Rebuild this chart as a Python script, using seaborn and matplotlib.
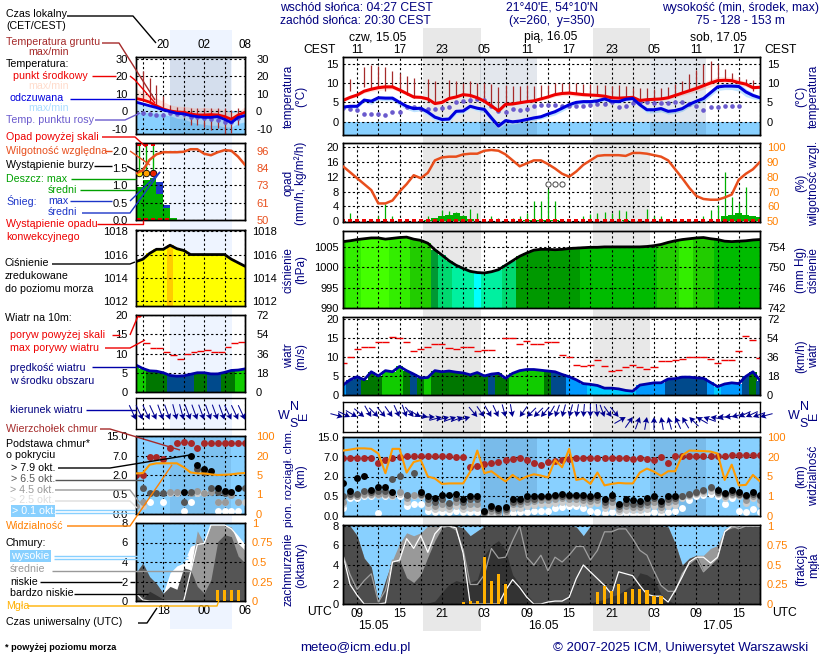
import matplotlib
matplotlib.use("Agg")
import matplotlib.pyplot as plt
import numpy as np
import seaborn as sns
from matplotlib.patches import Rectangle

n = np.nan

# long panel, hourly from 07 UTC on 15.05 (x = hours since 00 UTC 15.05)
hours = np.arange(7, 67)
temp_mid = [5.5,6.3,6.9,7.9,8.4,8.8,9.0,9.0,8.2,7.3,
            6.4,6.3,5.9,4.7,5.0,6.0,6.4,7.0,6.8,6.2,
            5.3,4.1,2.8,4.5,4.6,4.9,5.2,5.4,5.9,6.4,
            7.0,7.3,7.4,7.2,7.0,6.9,6.8,6.6,6.2,6.1,
            6.2,6.3,5.5,5.7,5.8,5.9,6.2,6.8,7.4,8.0,
            8.6,9.3,10.0,10.6,10.7,10.6,10.1,9.7,8.8,8.9]
temp_band = [.2,.3,.4,.5,.6,.7,.7,.6,.5,.4,
             .4,.4,.4,.4,.5,.5,.4,.3,.4,.4,
             .4,.4,.5,.4,.3,.3,.3,.4,.4,.5,
             .5,.6,.6,.6,.5,.4,.4,.4,.3,.3,
             .3,.3,.3,.3,.3,.3,.4,.5,.6,.7,
             .8,.9,1.0,1.0,.9,.9,.8,.7,.5,.3]
feels = [3.8,4.0,4.0,5.6,5.3,6.2,6.1,6.1,5.0,4.0,
         3.4,3.5,2.5,1.2,0.6,0.7,2.7,2.8,4.0,3.5,
         3.2,1.0,-1.1,0.3,0.0,0.2,0.6,1.0,1.3,2.0,
         2.6,3.5,4.4,5.0,5.2,5.2,5.4,5.9,5.3,5.2,
         5.8,6.0,4.4,3.1,3.1,3.4,2.7,2.9,3.4,4.5,
         5.3,6.0,7.5,9.0,9.2,9.2,9.1,7.7,6.8,6.2]
feels_band = [.3,.4,.5,.5,.8,.6,.7,.7,.8,.8,
              .8,.7,.8,.9,.9,.9,.7,.6,.6,.7,
              .8,.9,.7,.8,.6,.5,.5,.6,.6,.7,
              .8,.8,.7,.6,.6,.6,.6,.5,.5,.5,
              .4,.4,.7,.8,.8,.8,.7,.7,.7,.7,
              .7,.8,.9,.9,.9,.9,1.2,1.2,.9,.6]
dew = [3.5,3.4,3.0,2.0,2.0,2.0,1.8,2.4,2.6,3.7,
       3.8,3.3,3.2,3.3,3.5,3.7,5.0,5.4,5.6,5.8,
       5.5,4.2,2.7,2.6,3.2,3.0,3.4,4.1,4.3,4.4,
       4.4,4.1,4.2,4.0,4.1,4.4,4.5,4.7,5.0,3.9,
       4.0,4.8,5.0,5.0,4.8,4.8,4.9,5.0,5.0,4.7,
       4.0,3.1,3.9,3.9,4.0,4.2,4.2,n,n,n]
ground_max = [n,11,n,14,14.7,14.4,14,13,12.5,11.8,
              11.3,n,11,10.5,n,10.7,10.6,10.1,10.4,10.1,
              9.9,9.7,9,9.4,9.2,9.3,9.4,9.3,9.4,9.6,
              10,10,10,9.9,9.8,9.7,9.6,9.4,9.3,9.4,
              9.2,8.7,8.7,8.6,8.4,8.7,9,9.8,10.5,12.2,
              13.4,15,15.6,15,13.6,12.6,11.6,11,10.7,n]
ground_min = [n,8,n,9,8.4,9,8,9,8.2,7,
              6.2,n,5,4.5,n,6.2,6.5,7,6.3,5.5,
              5,4,2.8,4.5,4.6,4.9,5.2,5.4,5.9,6.4,
              7,7.3,7.4,7.2,7,6.9,6.8,6.6,6.2,6.1,
              6.2,6.3,5.5,5.7,5.8,5.9,6.2,6.8,7.4,8,
              8.6,9.3,10,10.6,10.7,10.6,10.1,9.7,8,n]

rain_mean = [0,0,0,0,0,0,0,0,0,0,
             0,0,.4,.8,1.4,1.8,2.1,1.5,.6,0,
             0,.1,.2,.2,.1,.2,.3,.3,.4,.4,
             .4,.2,.1,.1,.1,.1,.1,.2,.2,.2,
             .3,.1,.1,.1,0,0,0,0,0,0,
             0,0,0,0,1.3,1.7,2.1,1.7,1.3,1.1]
rain_max = [0,2.2,1.0,0,0,1.4,4.7,1.5,0,0,
            0,0,1.3,0,2.9,2.7,2.5,1.8,3.3,2.2,
            .5,1.4,.9,.4,1.0,1.4,2.2,5.4,5.4,8.7,
            5.4,.5,.5,.7,1.4,2.0,2.2,2.5,2.2,2.9,
            2.7,.3,.3,3.4,1.4,1.4,0,0,0,0,
            0,1.4,2.9,4.5,13.2,6.5,4.9,9.2,0,0]
humidity = [87,83,79,75,71,62,62,64,70,75,
            81,79,82.6,91,93,93.5,93.5,95,95.5,95.5,
            97.5,98,97.5,95,91,87,89,91,91,88.5,
            85.5,82,80,83.5,88,91,94,94.5,94.5,94.5,
            94,96,96,95.5,94.5,93.5,91,85,79,72.5,
            67,65,64.5,64.5,66,68,78,82,85,90]
storm_hours = [36, 37, 38]
storm_level = [10, 10, 10]

pressure = [1006.3,1006.5,1006.8,1007.0,1007.2,1007.2,1006.9,1007.1,1007.3,1007.4,
            1006.9,1006.6,1005.9,1004.3,1003.0,1001.6,1000.5,999.7,999.0,998.7,
            998.6,998.9,999.4,1000.5,1001.6,1002.7,1003.5,1004.2,1004.4,1004.4,
            1004.3,1004.4,1004.6,1004.7,1004.8,1004.9,1004.9,1005.0,1005.0,1005.0,
            1005.0,1005.0,1005.0,1005.1,1005.3,1005.6,1006.1,1006.5,1006.8,1007.0,
            1007.2,1007.3,1007.0,1006.8,1006.4,1006.3,1006.4,1006.5,1006.7,1006.8]
pressure_class = [6,7,7,8,8,8,8,7,7,7,
                  6,6,6,3,2,2,1,1,1,0,
                  1,1,1,2,2,4,4,4,4,4,
                  4,4,4,4,5,5,5,5,5,5,
                  5,5,5,5,5,6,6,6,7,7,
                  6,6,6,5,5,5,5,5,5,5]

wind = [2.6,4.0,4.8,4.0,6.1,5.0,6.4,6.1,7.5,6.4,
        5.5,4.5,4.6,6.4,6.1,6.3,6.0,5.8,5.3,5.9,
        5.0,5.5,5.7,4.4,5.7,6.4,6.7,6.7,6.5,6.3,
        6.1,5.4,4.8,4.0,3.0,2.8,2.5,1.8,1.8,1.6,
        1.2,1.0,2.6,2.9,3.2,3.2,4.2,4.3,4.7,4.7,
        4.5,4.4,3.3,2.2,2.9,3.2,3.0,4.9,6.1,3.8]
wind_class = [1,2,2,3,3,3,4,4,4,3,
              2,3,4,3,3,3,3,3,3,3,
              3,2,3,3,4,4,4,4,4,3,
              2,2,1,1,1,0,0,0,0,0,
              0,0,1,1,1,1,2,2,2,2,
              2,2,1,0,1,1,1,2,3,2]
gust = [8.3,10,12,12.5,12.5,13.8,13.8,15.3,15.1,14,
        11.5,12.2,12.5,13.3,13.3,12.4,12,12.5,12.7,11.5,
        11.9,11.7,n,15,15,13.5,14.3,13.5,13.3,13.8,
        14,10.4,9.9,8,7.6,8,9.3,7.6,6.3,6.7,
        7.3,7.8,7.3,6.8,7.3,8.9,8.9,9.2,9.4,9.9,
        9.9,10,9.4,8.3,9.1,9.1,11.5,15.4,14.5,9.6]
wind_dir = [285,295,300,310,330,315,320,325,335,340,
            320,300,280,270,255,255,250,250,255,320,
            325,330,335,345,350,35,45,45,40,30,
            20,15,15,10,5,0,355,340,325,320,
            240,215,200,190,180,170,165,155,150,135,
            120,110,100,90,85,75,65,65,70,75]

cloud_top = [6.8,6.8,6.8,6.6,6.6,5.4,6.3,6.8,7,7.2,
             7.3,7.4,7.4,7.3,7.2,7.2,7.1,7,4.4,4.7,
             5.1,5.5,5.7,6.1,6.4,6.6,6.2,5.5,5,5.6,
             5.9,6.3,6.5,6.7,6.8,6.8,6.8,6.7,6.7,6.6,
             6.7,6.5,6.6,6.5,6.3,7,5.4,7.2,7.3,7.3,
             7.2,7.3,7.4,7.3,7.5,7.6,7.7,7.7,7.7,7.6]
base_79 = [1.5,.9,1.9,2.1,1,1.2,1.2,.85,n,n,
           n,.8,.5,.45,.6,.6,.65,.43,.5,.5,
           .12,.25,.2,.22,.43,.43,.5,.52,.55,.55,
           .6,.65,.6,.58,.58,.55,.6,.43,.58,.3,
           .43,.4,.38,.45,.55,.37,.52,.52,n,n,
           n,n,n,1,.75,.95,.8,.6,.8,.6]
base_65 = [.5,.7,.7,.9,.85,.9,.9,1.8,2.1,.6,
           3,.7,.42,.35,.42,.33,.45,.35,.42,.42,
           .1,.2,.15,.18,.36,.38,.42,.44,.48,.48,
           .5,.55,.5,.5,.48,.46,.48,.36,.45,.25,
           .33,.3,.3,.35,.45,.3,.42,.45,.55,.65,
           .85,1.0,1.2,.85,.65,.8,.7,.5,.65,.5]
base_45 = [.35,.55,.55,.7,.7,.7,.7,.6,.85,.45,
           .6,.6,.32,.25,.3,.25,.35,.25,.3,.3,
           .08,.12,.1,.12,.3,.3,.35,.38,.4,.4,
           .42,.45,.42,.42,.4,.38,.4,.28,.35,.18,
           .25,.22,.22,.28,.35,.22,.35,.38,.5,.6,
           .75,.9,1.1,.75,.55,.7,.6,.4,.55,.4]
base_25 = [.3,.5,.5,.6,.6,.6,.6,.5,.65,.35,
           .55,.5,.22,.18,.2,.18,.25,.18,.2,.2,
           .06,.08,.07,.08,.2,.2,.25,.28,.3,.3,
           .32,.35,.33,.33,.32,.3,.32,.2,.25,.12,
           .15,.15,.14,.18,.25,.15,.25,.28,.45,.55,
           .65,.75,.9,.65,.45,.6,.5,.32,.45,.3]
base_01 = [.2,.45,.45,.5,.5,.08,.5,.5,.5,.25,
           .3,.3,.13,.1,.1,.1,.12,.1,.1,.1,
           .04,.05,.04,.05,.08,.09,.1,.12,.12,.13,
           .2,.22,.25,.25,.2,.12,.1,.07,.1,.05,
           .07,.05,.05,.07,.1,.06,.1,.12,.2,.4,
           .5,.6,.7,.55,.3,.45,.12,.1,.18,.1]
visibility = [45,49,54,54,52,33,7.5,52,52,8,
              16,17.5,5,4.6,3.5,3.6,3.6,3.6,8.7,45,
              7.5,9,5,4,6.2,4.3,5,6.7,5.7,4.8,
              17.5,12,52,4.3,4.6,3.5,8,3.2,3.5,3.7,
              3.6,3.6,8,11,8.7,5.5,9,9,26,45,
              44,43,41,33,4.3,14,3.2,3.3,6.2,4]

cover_low = [8,8,7,4.7,3.8,.1,2.4,4.5,4.5,2.7,
             2.2,3,4.8,6.5,7.8,8,8,7.8,7,7.5,
             8,8,8,8,8,8,8,8,8,8,
             8,8,8,7.9,7,8,8,8,8,8,
             8,8,8,8,8,8,7.9,6.2,4,4.7,
             5,3.4,4,5,7.5,7.8,7.9,8,8,8]
cover_mid = [8,8,7,4.7,3.8,.1,2.4,4.5,6.2,7.3,
             7,7.3,8,8,8,8,8,7.8,7,7.5,
             8,8,8,8,8,8,8,8,8,8,
             8,8,8,7.9,7,8,8,8,8,8,
             8,8,8,8,8,8,7.9,6.2,4,4.7,
             5,5,5.7,6,7.7,8,8,8,8,8]
cover_vlow = [0,0,0,0,0,0,0,0,0,0,
              0,0,.1,.3,1.2,2,2.4,2.2,2.2,2.5,
              5,6,6.5,5.5,3,2,1,.2,0,0,
              0,0,0,0,0,.1,.3,.5,.8,1,
              1.5,2,3.2,3,2.5,1,.4,0,0,0,
              0,0,0,0,0,0,0,0,0,0]
high_line = [5,2,.9,0,0,0,.1,4.3,4.5,6.7,
             5.7,7,5.3,7.2,8,8,7.8,5.2,0,0,
             0,0,0,1.4,2.5,1.7,.7,0,0,.2,
             .3,.3,.7,2.6,4,3.3,2.6,1.9,1,3.3,
             3.1,2.9,1.9,1,.8,.8,.2,1.4,2.8,4.3,
             4.8,4.8,4.2,4.8,7.4,8,8,8,8,8]
mid_line = [5,3,1.5,2.4,3.1,.2,1.4,4.5,4.3,6.7,
            6,7,5.3,7.2,8,8,7.6,5.6,2,2,
            3,5.7,4.7,4.8,6.5,8,4.8,4,5,3.4,
            4.8,4.3,5,5.9,5.9,4.5,5.5,7.4,7.4,7.7,
            7.7,6.7,5.5,5,3.4,1.9,1.3,1.3,3.1,4.1,
            4.7,3.3,4,4.7,7.4,8,7.7,8,8,8]
fog = [0,0,0,0,0,0,0,0,0,0,
       0,0,0,0,0,0,0,.03,.04,.04,
       .6,.3,.38,.25,0,0,0,0,0,0,
       0,0,0,0,0,0,.15,.23,.17,.26,
       .16,.19,.19,.18,.1,.1,0,0,0,0,
       0,0,0,0,0,0,0,0,0,0]

# short panel, hourly from 14 UTC
s_hours = np.arange(14, 31)
s_temp = [7.3,6.5,5.2,3.1,1.3,.2,-.4,-.6,-1.5,-2.1,-2.1,-1.9,-2.1,-3,-4.6,-2.1,-.6]
s_temp_hi = [13.3,10.4,8.5,7.5,5.6,3.6,3,2.7,2.3,1.7,2.3,1.7,1.7,.8,-.8,-.2,2.7]
s_feels = [5.2,4.2,3.1,2.1,.8,-.2,-1.2,-1.5,-2.5,-3.1,-3.5,-3.5,-3.1,-4.6,-6.5,-3.5,-2.5]
s_feels_lo = [-.5,-.5,-1,-1,-2,-2.5,-4,-4.5,-6,-7,-7.5,-8,-8,-9,-9,-7,-6]
s_dew = [-1.2,-1.2,-1.8,-2.1,-2.1,-1.2,-1.5,-1.5,-3,-3.5,-4,-4.6,-5,-6,-6,-4,n]
s_ground_max = [n,22.9,19,15,8.5,3.6,2.7,2.7,1.7,1.7,1.7,1.7,1.7,1.7,.8,1.7,2.7]
s_ground_min = [n,6.5,5.2,3.1,1.3,-1.2,-2.1,-3,-8,-8,-9,-10.8,-9.7,-13,-12.6,-8,-2.1]
s_rain_mean = [.95,1.15,1.2,.75,.35,.05,0,0,0,0,0,0,0,0,0,0,0]
s_snow_mean = [.95,1.15,1.2,1.1,.42,.05,0,0,0,0,0,0,0,0,0,0,0]
s_rain_hours = [14.5, 15.5, 16.5]
s_rain_max = [2.2, 2.2, 2.2]
s_storm_level = [1.35, 1.35, 1.35]
s_humidity = [81,83,90,93.6,95,95,95,95.3,97,97,94,93,95,96.4,96,92,86.6]
s_pressure = [1015.4,1015.6,1016.1,1016.45,1016.45,1016.8,1016.5,1016.35,1016,1016,1016,1016,1016,1016,1015.6,1015.3,1015]
s_pressure_class = [0,0,0,0,0,1,0,0,0,0,0,0,0,0,0,0,0]
s_wind = [7,6.1,5.5,5.4,5,4.3,4.1,4.2,4.6,5,5,4.7,4.7,5.1,5.6,5.7,6]
s_wind_class = [4,4,3,3,3,2,2,2,2,3,3,2,2,3,3,4,4]
s_gust = [n,12.6,11.5,11.3,10.4,9.6,8.7,9.8,10.5,10.7,10.8,10.4,10.4,11.6,12.6,12.9,12.9]
s_dir = [335,335,335,335,340,340,345,345,340,340,340,340,340,340,335,335,335]
s_top = [2,2,6.5,6.5,6,10,12,12.5,12,10,12,12,12,12,12,12,12]
s_79 = [n,n,n,n,n,n,n,.7,7,4.5,3.5,3,1,.8,.7,1,n]
s_65 = [n,1,.6,.6,.6,n,n,.3,.7,3.5,2.8,1,.7,.6,n,n,1]
s_45 = [.2,.3,n,n,n,.7,.7,n,.6,.8,.6,.7,.3,.3,.5,.3,n]
s_25 = [n,.2,n,n,n,.65,.6,n,n,.6,.6,n,.3,.3,n,.3,.3]
s_01 = [n,n,.3,n,.3,n,n,.08,.3,.6,.6,n,.08,.08,.08,.08,n]
s_visibility = [6.2,6.5,12.9,14,14,14,14,11,7,6.2,6.2,5.5,5,5.2,5.5,6.2,6.5]
s_low = [2.9,3.9,2.5,1.8,.8,1.5,1.2,3.4,3.2,1.5,.8,2.2,6.1,6.8,6.6,4.6,3.9]
s_mid = [0,0,0,0,0,0,0,0,3.2,7.2,5.9,7.8,7.8,7.8,7.6,5.9,5.2]
s_high = [0,0,0,0,.8,2.9,3.6,3.9,5.6,5.9,6,7.8,7.8,7.8,7.4,6.6,5.7]
s_vlow = [0,.2,1,.6,.2,0,0,0,0,0,0,0,0,0,0,0,0]
s_high_line = [.8,.1,0,0,0,0,0,0,2.9,5.8,5.9,7.8,7.8,7.8,7.4,6.6,5.7]
s_fog = [0,0,0,0,0,0,0,0,0,0,0,0,.145,.145,.145,.145,0]

W, H = 820, 660
NAVY = "#000080"
ORANGE = "#ff8000"
RH = "#e84e1c"
BROWN = "#a52a2a"
DASH = (0, (2, 2.2))
TICK_SIZE = 8.0
SIDE_SIZE = 7.7
SHADES = ["#00ffff", "#00f0a0", "#00d870", "#009933", "#009900", "#00bb00", "#22cc00", "#33ee00", "#44ff00"]
SHADES_S = ["#ffff00", "#ffcc00"]
WIND_COLORS = ["#00ccff", "#0099ff", "#004a8c", "#007700", "#11cc00"]
BASE_SCALE = [0, .5, 2, 7, 15]
VIS_SCALE = [0, 1, 5, 20, 100]
POS = [0, 1, 2, 3, 4]

sns.set_theme(style="white")
plt.rcParams["font.family"] = ["Liberation Sans", "DejaVu Sans"]
plt.rcParams["axes.linewidth"] = 1.0
plt.rcParams["axes.edgecolor"] = "black"
plt.rcParams["text.color"] = "black"
plt.rcParams["xtick.color"] = "black"
plt.rcParams["ytick.color"] = "black"


def px_axes(box, **kw):
    l, t, r, b = box
    return fig.add_axes([l / W, 1 - b / H, (r - l) / W, (b - t) / H], **kw)


def base_scale(ax):
    ax.set_yscale("function", functions=(lambda v: np.interp(v, BASE_SCALE, POS),
                                         lambda p: np.interp(p, POS, BASE_SCALE)))


def vis_scale(ax):
    ax.set_yscale("function", functions=(lambda v: np.interp(v, VIS_SCALE, POS),
                                         lambda p: np.interp(p, POS, VIS_SCALE)))


def line(ax, x, y, color, lw=2.0, z=4, **kw):
    sns.lineplot(x=x, y=y, ax=ax, color=color, linewidth=lw, errorbar=None, zorder=z, legend=False, **kw)


def dots(ax, x, y, color, size=24, marker="o", z=3.5):
    sns.scatterplot(x=x, y=y, ax=ax, color=color, s=size, marker=marker, linewidth=0, zorder=z, legend=False)


def finish(ax, xlim, ylim, yticks, ylabels, major, top_labels=None, bottom_labels=None,
           pad_left=3, top_pad=1.0, bottom_pad=3):
    ax.patch.set_visible(False)
    ax.set_xlim(xlim)
    ax.set_ylim(ylim)
    ax.set_xlabel("")
    ax.set_ylabel("")
    ax.set_xticks(major)
    ax.set_xticks([h for h in range(xlim[0], xlim[1] + 1) if h % 3 == 0], minor=True)
    ax.set_yticks(yticks, ylabels, fontsize=TICK_SIZE)
    ax.tick_params(axis="y", length=0, pad=pad_left)
    ax.tick_params(axis="x", which="both", length=0)
    ax.grid(True, axis="y", color="black", linestyle=DASH, linewidth=.8)
    ax.grid(True, axis="x", which="both", color="black", linestyle=DASH, linewidth=.8)
    ax.set_axisbelow(False)
    if top_labels:
        ax.xaxis.set_ticks_position("top")
        ax.set_xticks(major, top_labels, fontsize=TICK_SIZE + .4)
        ax.tick_params(axis="x", labeltop=True, labelbottom=False, pad=top_pad)
    elif bottom_labels:
        ax.set_xticks(major, bottom_labels, fontsize=TICK_SIZE + .4)
        ax.tick_params(axis="x", labelbottom=True, pad=bottom_pad)
    else:
        ax.tick_params(axis="x", labelbottom=False)


def right_axis(ax, ticks, labels, color="black", pad=5, ylim=None, scale=None):
    tw = ax.twinx()
    tw.patch.set_visible(False)
    if scale:
        scale(tw)
    tw.set_xlim(ax.get_xlim())
    tw.set_ylim(ylim if ylim else ax.get_ylim())
    tw.set_yticks(ticks, labels, fontsize=TICK_SIZE, color=color)
    tw.tick_params(axis="y", length=0, pad=pad)
    tw.grid(False)
    return tw


def draw_temp(ax, x, mid, hi, lo, fe, fe_hi, fe_lo, dw, g_hi, g_lo, band, line_w):
    ax.axhspan(-20, 0, color="#88d0ff", lw=0, zorder=1)
    ax.fill_between(x, lo, hi, color="#ffdcd4", alpha=.85, lw=0, zorder=1.2)
    ax.fill_between(x, fe_lo, fe_hi, color="#bfe4ff", lw=0, zorder=1.3)
    for a, b in band:
        ax.axvspan(a, b, color="#204070", alpha=.12, lw=0, zorder=1.4)
    ax.vlines(x, g_lo, g_hi, color=BROWN, lw=.9, zorder=3)
    dots(ax, x, dw, "#6a5acd", size=11)
    line(ax, x, mid, "#ee0000", lw=line_w)
    line(ax, x, fe, "#0000dd", lw=line_w)


fig = plt.figure(figsize=(W / 100, H / 100), dpi=100, facecolor="white")

# backgrounds behind the panels, in pixels of the picture
bg = fig.add_axes([0, 0, 1, 1], zorder=-5)
bg.set_xlim(0, W)
bg.set_ylim(H, 0)
bg.axis("off")
bg.add_patch(Rectangle((170, 30), 62, 599, color="#eef4ff", lw=0))
bg.add_patch(Rectangle((423.5, 28), 57.5, 603, color="#e8e8e8", lw=0))
bg.add_patch(Rectangle((593.5, 28), 56.5, 603, color="#e8e8e8", lw=0))

L_BOX = (136, 245)
R_BOX = (343, 760)
xl = (7, 66)
xs = (14, 30)
major_l = list(range(9, 66, 6))
major_s = [18, 24, 30]
night = [(26.4, 34.5), (50.4, 58.4)]
night_s = [(19, 28)]

# ---- long panels ----
a = px_axes((R_BOX[0], 57, R_BOX[1], 135))
t = np.array(temp_mid); ts = np.array(temp_band)
f = np.array(feels); fs = np.array(feels_band)
draw_temp(a, hours, t, t + ts, t - ts, f, f + fs * .7, f - fs, dew, ground_max, ground_min, night, 2.2)
finish(a, xl, (-3.4, 16.7), [0, 5, 10, 15], ["0", "5", "10", "15"], major_l,
       top_labels=["11", "17", "23", "05", "11", "17", "23", "05", "11", "17"])
right_axis(a, [0, 5, 10, 15], ["0", "5", "10", "15"])

a = px_axes((R_BOX[0], 143, R_BOX[1], 222))
a.bar(hours, rain_mean, width=1, color="#00b000", lw=0, zorder=1)
a.vlines(hours, 0, rain_max, color="#00b000", lw=.9, zorder=3)
dots(a, hours, np.zeros(60), "#ee0000", size=7, marker="s")
sns.scatterplot(x=storm_hours, y=storm_level, ax=a, s=14, facecolor="white", edgecolor="#444444",
                linewidth=.7, zorder=5, legend=False)
finish(a, xl, (-.2, 21.07), [0, 4, 8, 12, 16, 20], ["0", "4", "8", "12", "16", "20"], major_l)
tw = right_axis(a, [50, 60, 70, 80, 90, 100], ["50", "60", "70", "80", "90", "100"], color=ORANGE,
                ylim=(49.5, 102.7))
line(tw, hours, humidity, RH, lw=1.8)
tw.set_ylim(49.5, 102.7)
tw.set_ylabel("")

a = px_axes((R_BOX[0], 231, R_BOX[1], 308))
a.bar(hours, np.array(pressure) - 980, bottom=980, width=1.02, color=[SHADES[c] for c in pressure_class], lw=0, zorder=1)
line(a, hours, pressure, "black", lw=2.0)
finish(a, xl, (990, 1008.9), [990, 995, 1000, 1005], ["990", "995", "1000", "1005"], major_l)
right_axis(a, [990, 995, 1000, 1005], ["742", "746", "750", "754"])

a = px_axes((R_BOX[0], 317, R_BOX[1], 395))
a.bar(hours, wind, width=1.02, color=[WIND_COLORS[c] for c in wind_class], lw=0, zorder=1)
line(a, hours, wind, "#0000a8", lw=2.0)
a.hlines(gust, hours - .5, hours + .5, color="#ee0000", lw=1, zorder=3)
finish(a, xl, (0, 20.5), [0, 5, 10, 15, 20], ["0", "5", "10", "15", "20"], major_l)
right_axis(a, [0, 5, 10, 15, 20], ["0", "18", "36", "54", "72"])

a = px_axes((R_BOX[0], 402, R_BOX[1], 432))
rad = np.deg2rad(wind_dir)
q = a.quiver(hours, np.full(60, .5), -np.sin(rad) * 13, -np.cos(rad) * 13, angles="uv", scale_units="dots", scale=1,
             units="dots", pivot="tip", width=1, headwidth=6.5, headlength=6, headaxislength=5, color="#000090",
             zorder=4)
q.set_clip_on(False)
finish(a, xl, (0, 1), [], [], major_l)
a.grid(False, axis="y")

a = px_axes((R_BOX[0], 437, R_BOX[1], 516))
base_scale(a)
a.axhspan(0, 15, color="#88d0ff", lw=0, zorder=1)
for s, e in night:
    a.axvspan(s, e, color="#204070", alpha=.14, lw=0, zorder=1.4)
for vals, col in [(base_01, "white"), (base_25, "#cccccc"), (base_45, "#999999"), (base_65, "#555555"), (base_79, "black"), (cloud_top, "#a82828")]:
    dots(a, hours, vals, col, size=25)
finish(a, xl, (0, 15), [0, .5, 2, 7, 15], ["0.0", "0.5", "2.0", "7.0", "15.0"], major_l)
tw = right_axis(a, [0, 1, 5, 20, 100], ["0", "1", "5", "20", "100"], color=ORANGE, ylim=(0, 100), scale=vis_scale)
line(tw, hours, visibility, "#ff9a00", lw=1.5)
tw.set_ylim(0, 100)
tw.set_ylabel("")

a = px_axes((R_BOX[0], 525, R_BOX[1], 604))
a.axhspan(0, 9, color="#88d0ff", lw=0, zorder=1)
a.fill_between(hours, 0, cover_mid, color="#999999", lw=0, zorder=1.2)
a.fill_between(hours, 0, cover_low, color="#4d4d4d", lw=0, zorder=1.3)
a.fill_between(hours, 0, cover_vlow, color="#333333", lw=0, zorder=1.4)
line(a, hours, mid_line, "#a0a0a0", lw=.9, z=3.2)
line(a, hours, high_line, "white", lw=.9, z=3.3)
finish(a, xl, (0, 8.1), [0, 2, 4, 6, 8], ["0", "2", "4", "6", "8"], major_l,
       bottom_labels=["09", "15", "21", "03", "09", "15", "21", "03", "09", "15"])
tw = right_axis(a, [0, .25, .5, .75, 1], ["0", "0.25", "0.5", "0.75", "1"], color=ORANGE, ylim=(0, 1.0125))
tw.bar(hours, fog, width=.45, color="#ffb000", lw=0, zorder=5)
tw.set_ylim(0, 1.0125)

# ---- short panels ----
a = px_axes((L_BOX[0], 57, L_BOX[1], 134))
draw_temp(a, s_hours, s_temp, s_temp_hi, s_temp, s_feels, s_feels, s_feels_lo, s_dew, s_ground_max, s_ground_min, night_s, 2.0)
finish(a, xs, (-13, 31), [-10, 0, 10, 20, 30], ["-10", "0", "10", "20", "30"], major_s,
       top_labels=["20", "02", "08"], pad_left=6, top_pad=4)
right_axis(a, [-10, 0, 10, 20, 30], ["-10", "0", "10", "20", "30"], pad=8)

a = px_axes((L_BOX[0], 143.5, L_BOX[1], 220))
a.bar(s_hours + .5, s_snow_mean, width=1, color="#1c35c8", lw=0, zorder=1)
a.bar(s_hours + .5, s_rain_mean, width=1, color="#00b000", lw=0, zorder=1.1)
a.vlines(s_rain_hours, s_storm_level, s_rain_max, color="#00b000", lw=1, zorder=3)
dots(a, s_rain_hours, s_rain_max, "#ee0000", size=10, marker="s", z=5)
for hh, lvl, col in zip(s_rain_hours, s_storm_level, ["#ffe800", "#ffa000", "#e82000"]):
    sns.scatterplot(x=[hh], y=[lvl], ax=a, s=22, color=col, edgecolor="black", linewidth=.6, zorder=5, legend=False)
dots(a, s_hours[:5] + .5, np.zeros(5) + .01, "#ee0000", size=5, marker="s", z=5)
finish(a, xs, (0, 2.21), [0, .5, 1, 1.5, 2], ["0.0", "0.5", "1.0", "1.5", "2.0"], major_s, pad_left=6)
tw = right_axis(a, [50, 61.5, 73, 84.5, 96], ["50", "61", "73", "84", "96"], color=RH, pad=8, ylim=(50, 100.8))
line(tw, s_hours, s_humidity, RH, lw=1.8)
tw.set_ylim(50, 100.8)
tw.set_ylabel("")

a = px_axes((L_BOX[0], 230, L_BOX[1], 306))
a.bar(s_hours, np.array(s_pressure) - 1000, bottom=1000, width=1.02, color=[SHADES_S[c] for c in s_pressure_class], lw=0, zorder=1)
line(a, s_hours, s_pressure, "black", lw=2.0)
finish(a, xs, (1011.6, 1018.1), [1012, 1014, 1016, 1018], ["1012", "1014", "1016", "1018"], major_s, pad_left=6)
right_axis(a, [1012, 1014, 1016, 1018], ["1012", "1014", "1016", "1018"], pad=5)

a = px_axes((L_BOX[0], 315, L_BOX[1], 392))
a.bar(s_hours, s_wind, width=1.02, color=[WIND_COLORS[c] for c in s_wind_class], lw=0, zorder=1)
line(a, s_hours, s_wind, "#0000a8", lw=2.0)
a.hlines(s_gust, s_hours, s_hours + 1, color="#ee0000", lw=1, zorder=3)
dots(a, [14.4], [20], "#ee0000", size=10, z=5)
finish(a, xs, (0, 20), [0, 5, 10, 15, 20], ["0", "5", "10", "15", "20"], major_s, pad_left=6)
right_axis(a, [0, 5, 10, 15, 20], ["0", "18", "36", "54", "72"], pad=8)

a = px_axes((L_BOX[0], 398, L_BOX[1], 429))
rad = np.deg2rad(s_dir)
q = a.quiver(s_hours, np.full(17, .3), -np.sin(rad) * 16, -np.cos(rad) * 16, angles="uv", scale_units="dots", scale=1,
             units="dots", pivot="tip", width=1, headwidth=6.5, headlength=6, headaxislength=5, color="#000090",
             zorder=4)
q.set_clip_on(False)
finish(a, xs, (0, 1), [], [], major_s)
a.grid(False, axis="y")

a = px_axes((L_BOX[0], 436, L_BOX[1], 514))
base_scale(a)
a.axhspan(0, 15, color="#88d0ff", lw=0, zorder=1)
for s, e in night_s:
    a.axvspan(s, e, color="#204070", alpha=.1, lw=0, zorder=1.4)
for vals, col in [(s_01, "white"), (s_25, "#cccccc"), (s_45, "#999999"), (s_65, "#555555"), (s_79, "black"), (s_top, "#a82828")]:
    dots(a, s_hours, vals, col, size=25)
finish(a, xs, (0, 15), [0, .5, 2, 7, 15], ["0.0", "0.5", "2.0", "7.0", "15.0"], major_s, pad_left=6)
tw = right_axis(a, [0, 1, 5, 20, 100], ["0", "1", "5", "20", "100"], color=ORANGE, pad=8, ylim=(0, 100), scale=vis_scale)
line(tw, s_hours, s_visibility, "#ff9a00", lw=1.5)
tw.set_ylim(0, 100)
tw.set_ylabel("")

a = px_axes((L_BOX[0], 523, L_BOX[1], 601))
a.axhspan(0, 9, color="#88d0ff", lw=0, zorder=1)
a.fill_between(s_hours, 0, s_high, color="white", lw=0, zorder=1.1)
a.fill_between(s_hours, 0, s_mid, color="#999999", lw=0, zorder=1.2)
a.fill_between(s_hours, 0, s_low, color="#555555", lw=0, zorder=1.3)
a.fill_between(s_hours, 0, s_vlow, color="#333333", lw=0, zorder=1.4)
line(a, s_hours, s_high_line, "white", lw=.9, z=3.3)
finish(a, xs, (0, 8), [0, 2, 4, 6, 8], ["0", "2", "4", "6", "8"], major_s,
       bottom_labels=["18", "00", "06"], pad_left=6, bottom_pad=3)
tw = right_axis(a, [0, .25, .5, .75, 1], ["0", "0.25", "0.5", "0.75", "1"], color=ORANGE, pad=5, ylim=(0, 1))
tw.bar(s_hours, s_fog, width=.45, color="#ffb000", lw=0, zorder=5)
tw.set_ylim(0, 1)

# ---- all the writing and the leader lines, in pixels ----
top = fig.add_axes([0, 0, 1, 1], zorder=20)
top.set_xlim(0, W)
top.set_ylim(H, 0)
top.axis("off")
top.patch.set_visible(False)


def label(x, y, s, color="black", ha="left", size=8.7, rot=0, **kw):
    top.text(x, y, s, color=color, ha=ha, va="center", fontsize=size, rotation=rot,
             rotation_mode="anchor" if rot == 0 else "default", **kw)


def leader(xs_, ys_, color, lw=1.0):
    top.plot(xs_, ys_, color=color, lw=lw, solid_capstyle="butt")


header = [(280, 8, "wschód słońca: 04:27 CEST", "left"), (280, 21, "zachód słońca: 20:30 CEST", "left"),
          (552, 8, "21°40'E, 54°10'N", "center"), (552, 21, "(x=260,  y=350)", "center"),
          (819, 8, "wysokość (min, środek, max)", "right"), (740, 21, "75 - 128 - 153 m", "center")]
for x, y, s, ha in header:
    label(x, y, s, NAVY, ha=ha)

for x, s in [(378, "czw, 15.05"), (551, "pią, 16.05"), (718, "sob, 17.05")]:
    label(x, 37, s, ha="center")
label(320, 50, "CEST", ha="center")
label(781, 50, "CEST", ha="center")
label(320, 612, "UTC", ha="center")
label(785, 613, "UTC", ha="center")
for x, s in [(373, "15.05"), (543, "16.05"), (717, "17.05")]:
    label(x, 626, s, ha="center")

left_titles = [(96, "temperatura", "(°C)"), (183, "opad", "(mm/h, kg/m²/h)"), (270, "ciśnienie", "(hPa)"),
               (356, "wiatr", "(m/s)")]
for y, a1, a2 in left_titles:
    label(289, y, a1, NAVY, ha="center", rot=90, size=8.5)
    label(301, y, a2, NAVY, ha="center", rot=90, size=8.5)
right_titles = [(96, "temperatura", "(°C)"), (183, "wilgotność wzgl.", "(%)"), (270, "ciśnienie", "(mm Hg)"),
                (356, "wiatr", "(km/h)"), (476, "widzialność", "(km)"), (565, "mgła", "(frakcja)")]
for y, a1, a2 in right_titles:
    label(814, y, a1, NAVY, ha="center", rot=90, size=8.5)
    label(801, y, a2, NAVY, ha="center", rot=90, size=8.5)
label(289, 478, "pion. rozciągł. chm.", NAVY, ha="center", rot=90, size=8.2)
label(301, 476, "(km)", NAVY, ha="center", rot=90, size=8.5)
label(289, 569, "zachmurzenie", NAVY, ha="center", rot=90, size=8.5)
label(301, 565, "(oktanty)", NAVY, ha="center", rot=90, size=8.5)

for x0 in (284, 794):
    label(x0, 416, "W", NAVY, ha="center", size=9)
    label(x0 + 11, 407, "N", NAVY, ha="center", size=9)
    label(x0 + 10, 424, "S", NAVY, ha="center", size=9)
    label(x0 + 20, 416, "E", NAVY, ha="center", size=9, rot=90)

label(300, 648, "meteo@icm.edu.pl", NAVY, size=9.5)
label(553, 648, "© 2007-2025 ICM, Uniwersytet Warszawski", NAVY, size=9.5)
label(5, 648, "* powyżej poziomu morza", size=6.6, fontweight="bold")

side = [
    (6, 14, "Czas lokalny", "black"), (6, 26, "(CET/CEST)", "black"),
    (6, 42, "Temperatura gruntu", BROWN), (28, 52, "max/min", BROWN),
    (6, 64, "Temperatura:", "black"), (13, 76, "punkt środkowy", "#ee0000"),
    (28, 86, "max/min", "#ffdccc"), (10, 98, "odczuwana", "#0000dd"),
    (28, 108, "max/min", "#aaddff"), (6, 120, "Temp. punktu rosy", "#6a5acd"),
    (6, 137, "Opad powyżej skali", "#ee0000"), (6, 151, "Wilgotność względna", RH),
    (6, 165, "Wystąpienie burzy", "black"), (6, 179, "Deszcz: max", "#00a000"),
    (48, 190, "średni", "#00a000"), (6, 201, "Śnieg:", "#1c35c8"),
    (48, 201, "max", "#1c35c8"), (48, 212, "średni", "#1c35c8"),
    (6, 224, "Wystąpienie opadu", "#ee0000"), (6, 237, "konwekcyjnego", "#ee0000"),
    (5, 263, "Ciśnienie", "black"), (5, 276, "zredukowane", "black"),
    (5, 289, "do poziomu morza", "black"), (5, 318, "Wiatr na 10m:", "black"),
    (10, 335, "poryw powyżej skali", "#ee0000"), (10, 348, "max porywy wiatru", "#ee0000"),
    (10, 368, "prędkość wiatru", NAVY), (10, 381, "w środku obszaru", NAVY),
    (10, 410, "kierunek wiatru", NAVY), (6, 429, "Wierzchołek chmur", BROWN),
    (6, 444, "Podstawa chmur*", "black"), (6, 455, "o pokryciu", "black"),
    (11, 468, "> 7.9 okt.", "black"), (11, 479, "> 6.5 okt.", "#555555"),
    (10, 490, "> 4.5 okt.", "#999999"), (10, 500, "> 2.5 okt.", "#dddddd"),
    (6, 526, "Widzialność", ORANGE), (6, 543, "Chmury:", "black"),
    (10, 569, "średnie", "#999999"), (10, 582, "niskie", "black"),
    (10, 593, "bardzo niskie", "black"), (6, 606, "Mgła", "#ffb000"),
    (6, 622, "Czas uniwersalny (UTC)", "black"),
]
for x, y, s, c in side:
    label(x, y, s, c, size=SIDE_SIZE)

top.add_patch(Rectangle((11, 505), 44, 12, color="#88d0ff", lw=0))
top.add_patch(Rectangle((10, 550), 41, 12, color="#88d0ff", lw=0))
label(12, 511, "> 0.1 okt.", "white", size=SIDE_SIZE)
label(11, 556, "wysokie", "white", size=SIDE_SIZE)

leaders = [
    ([67, 133, 156], [16, 16, 43], "black"),
    ([102, 119, 155], [43, 43, 100], BROWN),
    ([92, 116], [76, 76], "#ee0000"), ([130, 135, 155], [76, 80, 103], "#ee0000"),
    ([70, 135], [99, 99], "#0000dd"),
    ([95, 125, 140], [120, 120, 113], "#6a5acd"),
    ([102, 135, 146], [137, 137, 147], "#ee0000"),
    ([105, 112], [151, 151], RH), ([130, 150], [151, 165], RH),
    ([94, 112], [166, 166], "black"), ([127, 138], [166, 172], "black"),
    ([71, 136], [179, 179], "#00a000"), ([80, 136], [190, 190], "#00a000"),
    ([70, 112], [201, 201], "#1c35c8"), ([130, 160], [201, 172], "#1c35c8"),
    ([82, 130, 160], [213, 213, 172], "#1c35c8"),
    ([97, 143, 143], [224, 224, 220], "#ee0000"),
    ([52, 130, 135], [264, 264, 262], "black"),
    ([112, 120], [335, 335], "#ee0000"), ([130, 138], [335, 316], "#ee0000"),
    ([105, 130, 145], [348, 348, 340], "#ee0000"),
    ([92, 136], [367, 367], "#0000a8"),
    ([86, 136], [410, 410], "#0000a8"),
    ([100, 110, 180], [429, 429, 450], BROWN),
    ([58, 110, 190], [468, 468, 455], "black"),
    ([55, 143], [480, 480], "#555555"),
    ([55, 130, 140], [490, 490, 503], "#999999"),
    ([55, 130, 137], [501, 501, 508], "#dddddd"),
    ([55, 135], [510, 510], "#88d0ff"), ([55, 135], [512.5, 512.5], "#88d0ff"),
    ([67, 130, 172], [526, 526, 465], ORANGE),
    ([54, 188], [556, 556], "#88d0ff"), ([54, 188], [558.5, 558.5], "#88d0ff"),
    ([52, 192], [571, 571], "#999999"),
    ([40, 122], [582, 582], "black"), ([130, 135], [582, 582], "black"),
    ([74, 148], [594, 594], "black"),
    ([28, 217, 219], [606, 606, 600], "#ffb000"),
    ([138, 147, 157], [623, 623, 608], "black"),
]
for xs_, ys_, c in leaders:
    leader(xs_, ys_, c)
top.set_xlim(0, W)
top.set_ylim(H, 0)

fig.savefig("out.png", dpi=100)
